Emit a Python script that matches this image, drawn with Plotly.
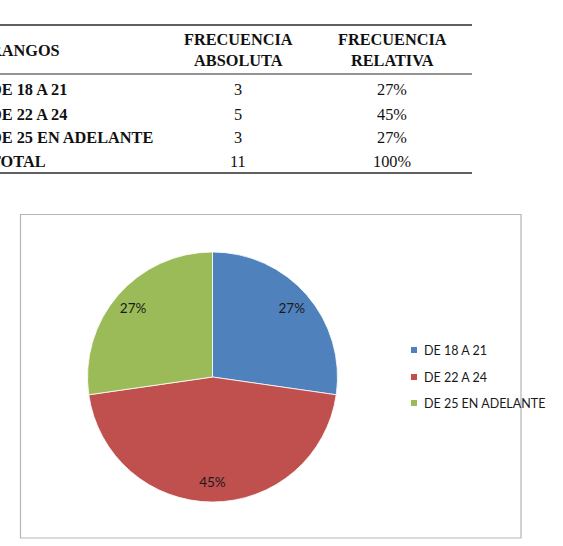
import plotly.graph_objects as go

# ---------------- data ----------------
rangos = ["DE 18 A 21", "DE 22 A 24", "DE 25 EN ADELANTE"]
frec_abs = [3, 5, 3]
frec_rel = ["27%", "45%", "27%"]
total_label = "TOTAL"
total_abs = 11
total_rel = "100%"
headers = ["RANGOS", "FRECUENCIA<br>ABSOLUTA", "FRECUENCIA<br>RELATIVA"]
caption = "Cuadro 2 Edad de los Encuestados"
colors = ["#4F81BD", "#C0504D", "#9BBB59"]

W, H = 563, 546


def px(x):
    return x / W


def py(y):
    return 1 - y / H


pie_domain = dict(x=[px(87.5), px(337.5)], y=[py(502), py(252)])

fig = go.Figure()

# coloured slices
fig.add_trace(go.Pie(
    labels=rangos,
    values=frec_abs,
    sort=False,
    direction="clockwise",
    rotation=0,
    marker=dict(colors=colors, line=dict(color="white", width=0.8)),
    textinfo="none",
    domain=pie_domain,
    showlegend=False,
    hoverinfo="label+value+percent",
))

# percentage labels placed near the rim (same data, transparent ring)
fig.add_trace(go.Pie(
    labels=rangos,
    values=frec_abs,
    sort=False,
    direction="clockwise",
    rotation=0,
    hole=0.68,
    marker=dict(colors=["rgba(0,0,0,0)"] * len(rangos), line=dict(width=0)),
    texttemplate="%{percent:.0%}",
    textposition="inside",
    insidetextorientation="horizontal",
    textfont=dict(family="Lato", size=13.5, color="#1a1a1a"),
    domain=pie_domain,
    showlegend=False,
    hoverinfo="skip",
))

shapes = []
annotations = []

# caption (cut off at top)
annotations.append(dict(
    x=px(-2), y=py(5), xref="paper", yref="paper", xanchor="left", yanchor="bottom",
    text=caption, showarrow=False,
    font=dict(family="Liberation Serif", size=15, color="#9a9a9a"),
))

# table rules
rule_x0, rule_x1 = px(-5), px(472)
for yy, wdt in [(25, 1.6), (74, 1.2), (173, 1.6)]:
    shapes.append(dict(type="line", xref="paper", yref="paper",
                       x0=rule_x0, x1=rule_x1, y0=py(yy), y1=py(yy),
                       line=dict(color="#2b2b2b", width=wdt)))

serif_b = dict(family="Liberation Serif", size=16.3, color="#111111")
serif = dict(family="Liberation Serif", size=16.3, color="#111111")
col1_x = px(-12)
col2_x = px(238)
col3_x = px(392)

# header
annotations.append(dict(x=col1_x, y=py(50), xref="paper", yref="paper",
                        xanchor="left", yanchor="middle", text="<b>" + headers[0] + "</b>",
                        showarrow=False, font=serif_b))
for cx, htxt in [(col2_x, headers[1]), (col3_x, headers[2])]:
    annotations.append(dict(x=cx, y=py(50), xref="paper", yref="paper",
                            xanchor="center", yanchor="middle", text="<b>" + htxt + "</b>",
                            showarrow=False, font=serif_b, align="center"))

rows = list(zip(rangos, frec_abs, frec_rel)) + [(total_label, total_abs, total_rel)]
row_y = [90, 114, 137, 161]
for (r, a, rel), yy in zip(rows, row_y):
    annotations.append(dict(x=col1_x, y=py(yy), xref="paper", yref="paper",
                            xanchor="left", yanchor="middle", text="<b>" + r + "</b>",
                            showarrow=False, font=serif_b))
    annotations.append(dict(x=col2_x, y=py(yy), xref="paper", yref="paper",
                            xanchor="center", yanchor="middle", text=str(a),
                            showarrow=False, font=serif))
    annotations.append(dict(x=col3_x, y=py(yy), xref="paper", yref="paper",
                            xanchor="center", yanchor="middle", text=rel,
                            showarrow=False, font=serif))

# chart border
shapes.append(dict(type="rect", xref="paper", yref="paper",
                   x0=px(20.5), x1=px(521), y0=py(538), y1=py(214.5),
                   line=dict(color="#b5b5b5", width=1.2), fillcolor="rgba(0,0,0,0)"))

# legend (manual)
leg_y = [350, 377, 403]
for lab, col, yy in zip(rangos, colors, leg_y):
    shapes.append(dict(type="rect", xref="paper", yref="paper",
                       x0=px(411), x1=px(417), y0=py(yy + 3), y1=py(yy - 3),
                       line=dict(width=0), fillcolor=col))
    annotations.append(dict(x=px(422), y=py(yy), xref="paper", yref="paper",
                            xanchor="left", yanchor="middle", text=lab, showarrow=False,
                            font=dict(family="Lato", size=12.5, color="#1a1a1a")))

fig.update_layout(
    width=W, height=H,
    margin=dict(l=0, r=0, t=0, b=0),
    paper_bgcolor="white",
    plot_bgcolor="white",
    shapes=shapes,
    annotations=annotations,
)

fig.write_html("out.html")
